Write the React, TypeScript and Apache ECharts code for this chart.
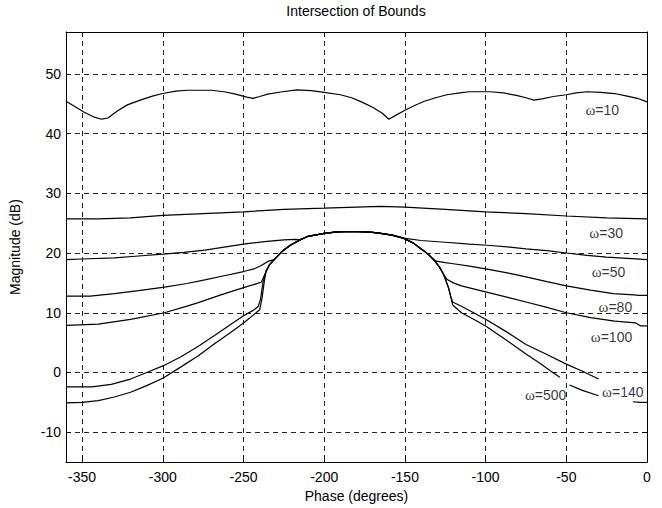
import React, { useEffect, useRef } from 'react';
import * as echarts from 'echarts';

type P = [number, number] | null;

// Axis ranges
const phaseRange = [-360, 0];
const magRange = [-15, 57];

// omega = 10
const w10: P[] = [
  [-360, 45.4], [-355, 44.6], [-349, 43.6], [-343, 42.8], [-338, 42.4], [-334, 42.6], [-328, 43.8],
  [-322, 44.8], [-314, 45.6], [-306, 46.3], [-300, 46.7], [-292, 47.1], [-285, 47.25], [-270, 47.25],
  [-262, 47.0], [-255, 46.6], [-248, 46.1], [-244, 45.9], [-240, 46.2], [-235, 46.6], [-226, 47.0],
  [-217, 47.3], [-208, 47.2], [-200, 46.9], [-190, 46.5], [-183, 46.0], [-177, 45.3], [-170, 44.4],
  [-164, 43.4], [-160, 42.4], [-156, 43.0], [-150, 43.9], [-144, 44.7], [-138, 45.4], [-131, 46.0],
  [-124, 46.5], [-116, 46.8], [-110, 47.0], [-97, 47.0], [-89, 46.8], [-81, 46.4], [-75, 46.0],
  [-70, 45.6], [-65, 45.8], [-58, 46.2], [-50, 46.5], [-44, 46.8], [-37, 47.0], [-29, 46.9],
  [-20, 46.7], [-13, 46.3], [-6, 45.9], [0, 45.3],
];

// omega = 30
const w30: P[] = [
  [-360, 25.7], [-340, 25.7], [-320, 25.9], [-300, 26.3], [-275, 26.6], [-250, 26.9], [-225, 27.3],
  [-200, 27.5], [-180, 27.7], [-165, 27.8], [-150, 27.7], [-125, 27.3], [-100, 26.9], [-75, 26.6],
  [-50, 26.2], [-25, 25.9], [0, 25.7],
];

// shared dome (intersection boundary)
const dome: [number, number][] = [
  [-236, 17.0], [-234, 18.0], [-231, 18.9], [-226, 20.3], [-221, 21.3], [-215, 22.2], [-210, 22.8],
  [-200, 23.3], [-192, 23.55], [-183, 23.6], [-175, 23.55], [-170, 23.45], [-165, 23.3], [-158, 23.0],
  [-151, 22.5], [-145, 21.7], [-140.5, 20.8], [-136, 19.9], [-131.5, 18.7], [-128.5, 17.6],
  [-126, 16.4], [-124.5, 15.3], [-123, 14.2], [-121.5, 12.6], [-120.4, 11.3],
];

// omega = 50
const w50Left: P[] = [
  [-360, 18.9], [-350, 19.0], [-330, 19.2], [-315, 19.5], [-300, 19.8], [-287, 20.1], [-274, 20.5],
  [-262, 21.0], [-250, 21.5], [-237, 21.9], [-225, 22.2], [-218, 22.3],
];
const w50Right: P[] = [
  [-140, 22.1], [-125, 21.8], [-110, 21.5], [-99, 21.3], [-85, 21.0], [-75, 20.7], [-62, 20.4],
  [-50, 20.0], [-37, 19.6], [-25, 19.3], [-12, 19.1], [0, 18.9],
];

// omega = 80
const w80Left: P[] = [
  [-360, 12.8], [-345, 12.8], [-330, 13.2], [-315, 13.7], [-299, 14.3], [-285, 14.9], [-274, 15.5],
  [-262, 16.2], [-250, 16.9], [-243, 17.4], [-239, 17.9], [-235, 18.6],
];
const w80Right: P[] = [
  [-125, 18.4], [-120, 18.2], [-110, 17.8], [-99, 17.3], [-85, 16.6], [-75, 16.0], [-62, 15.2],
  [-50, 14.5], [-35, 13.8], [-21, 13.2], [-8, 13.0], [-5, 12.9], [0, 12.9],
];

// omega = 100
const w100Left: P[] = [
  [-360, 7.9], [-340, 8.1], [-320, 8.9], [-299, 10.0], [-285, 11.1], [-278, 11.7], [-265, 12.9],
  [-250, 14.2], [-239, 15.1], [-236.5, 16.6],
];
const w100Right: P[] = [
  [-124, 15.6], [-120, 15.0], [-115, 14.5], [-100, 13.5], [-85, 12.5], [-75, 11.8], [-62, 10.9],
  [-50, 10.0], [-35, 9.2], [-20, 8.6], [-7, 8.3], [-4, 7.8], [0, 7.8],
];

// omega = 140
const w140Left: P[] = [
  [-360, -5.1], [-350, -5.0], [-340, -4.7], [-330, -4.1], [-320, -3.3], [-310, -2.2], [-300, -0.95],
  [-289, 0.9], [-278, 2.8], [-268, 4.8], [-258, 6.7], [-250, 8.3], [-244, 9.6], [-240, 10.5],
  [-238.5, 12.5], [-237, 15.5],
];
const w140Right: P[] = [
  [-115, 10.0], [-108, 9.0], [-100, 7.8], [-87, 5.4], [-75, 3.1], [-65, 1.3], [-60, 0.3], [-54, -0.8],
  null, [-48, -2.1], [-40, -3.0], [-30, -3.9], null, [-8.8, -4.9], [-4, -5.0], [0, -5.0],
];

// omega = 500
const w500Left: P[] = [
  [-360, -2.4], [-344, -2.4], [-332, -2.0], [-320, -1.1], [-310, 0.0], [-300, 1.1], [-289, 2.6],
  [-278, 4.4], [-268, 6.2], [-258, 8.05], [-250, 9.5], [-244, 10.4], [-241, 11.0], [-239.5, 12.2],
  [-238, 15.0],
];
const w500Right: P[] = [
  [-120.5, 11.8], [-115, 11.1], [-108, 10.1], [-100, 8.9], [-87, 6.8], [-75, 4.7], [-62, 3.0],
  [-50, 1.4], [-40, 0.2], [-30, -1.1],
];

// curve labels
const labelNames = ['ω=10', 'ω=30', 'ω=50', 'ω=80', 'ω=100', 'ω=140', 'ω=500'];
const labelPhase = [-27.7, -25.3, -23.9, -19.6, -22, -15, -62.8];
const labelMag = [43.9, 23.3, 16.8, 11.0, 6.0, -3.2, -3.8];

const seg = (a: number, b: number): P[] => dome.filter(([x]) => x >= a && x <= b);

const FONT = 'Liberation Sans, Arial, Helvetica, sans-serif';

export default function App() {
  const ref = useRef<HTMLDivElement>(null);
  useEffect(() => {
    const chart = echarts.init(ref.current!, undefined, { renderer: 'svg' });
    const curves: P[][] = [
      w10,
      w30,
      [...w50Left, ...seg(-215, -151), ...w50Right],
      [...w80Left, ...seg(-231, -131.5), ...w80Right],
      [...w100Left, ...seg(-234, -126), ...w100Right],
      [...w140Left, ...seg(-236, -120.4), ...w140Right],
      [...w500Left, ...seg(-236, -121.5), ...w500Right],
    ];
    const lineStyle = { color: '#000', width: 1.2 };
    const gridLine = { show: true, lineStyle: { color: '#222', width: 1, type: [5, 4] as any } };
    const option: any = {
      animation: false,
      backgroundColor: '#fff',
      textStyle: { fontFamily: FONT },
      title: {
        text: 'Intersection of Bounds',
        left: 356,
        textAlign: 'center',
        top: 4,
        padding: 0,
        textStyle: { fontFamily: FONT, fontSize: 14, fontWeight: 'normal', color: '#000' },
      },
      grid: { left: 65, right: 15, top: 32, bottom: 45, containLabel: false },
      xAxis: [
        {
          type: 'value',
          min: phaseRange[0],
          max: phaseRange[1],
          splitNumber: 7,
          minInterval: 50,
          maxInterval: 50,
          name: 'Phase (degrees)',
          nameLocation: 'middle',
          nameGap: 23,
          nameTextStyle: { fontFamily: FONT, fontSize: 14, color: '#000' },
          axisLine: { show: true, onZero: false, lineStyle: { color: '#000', width: 1 } },
          axisTick: { show: true, inside: true, length: 5, lineStyle: { color: '#000' } },
          axisLabel: {
            fontFamily: FONT, fontSize: 14, color: '#000', margin: 8,
            formatter: (v: number) => (v % 50 === 0 ? String(v) : ''),
            showMinLabel: true, showMaxLabel: true,
          },
          splitLine: gridLine,
        },
        {
          type: 'value',
          position: 'top',
          min: phaseRange[0],
          max: phaseRange[1],
          splitNumber: 7,
          minInterval: 50,
          maxInterval: 50,
          axisLine: { show: true, onZero: false, lineStyle: { color: '#000', width: 1 } },
          axisTick: { show: true, inside: true, length: 5, lineStyle: { color: '#000' } },
          axisLabel: { show: false },
          splitLine: { show: false },
        },
      ],
      yAxis: [
        {
          type: 'value',
          min: magRange[0],
          max: magRange[1],
          splitNumber: 7,
          minInterval: 10,
          maxInterval: 10,
          name: 'Magnitude (dB)',
          nameLocation: 'middle',
          nameGap: 44,
          nameRotate: 90,
          nameTextStyle: { fontFamily: FONT, fontSize: 14, color: '#000' },
          axisLine: { show: true, onZero: false, lineStyle: { color: '#000', width: 1 } },
          axisTick: { show: true, inside: true, length: 5, lineStyle: { color: '#000' } },
          axisLabel: {
            fontFamily: FONT, fontSize: 14, color: '#000', margin: 5,
            formatter: (v: number) => (v % 10 === 0 ? String(v) : ''),
          },
          splitLine: gridLine,
        },
        {
          type: 'value',
          position: 'right',
          min: magRange[0],
          max: magRange[1],
          splitNumber: 7,
          minInterval: 10,
          maxInterval: 10,
          axisLine: { show: true, onZero: false, lineStyle: { color: '#000', width: 1 } },
          axisTick: { show: true, inside: true, length: 5, lineStyle: { color: '#000' } },
          axisLabel: { show: false },
          splitLine: { show: false },
        },
      ],
      series: [
        ...curves.map((data, i) => ({
          type: 'line',
          name: labelNames[i],
          data,
          showSymbol: false,
          symbol: 'none',
          lineStyle,
          connectNulls: false,
          silent: true,
          z: 3,
        })),
        {
          type: 'scatter',
          symbolSize: 0,
          silent: true,
          z: 5,
          data: labelNames.map((n, i) => ({ name: n, value: [labelPhase[i], labelMag[i]] })),
          label: {
            show: true,
            position: 'inside',
            color: '#000',
            fontFamily: FONT,
            fontSize: 14,
            formatter: (p: any) => '{w|ω}' + String(p.name).slice(1),
            rich: { w: { fontFamily: 'Liberation Serif, serif', fontSize: 15, color: '#000' } },
          },
        },
      ],
    };
    chart.setOption(option);
    return () => chart.dispose();
  }, []);
  return <div ref={ref} style={{ position: 'fixed', left: 0, top: 0, width: 662, height: 508 }} />;
}
